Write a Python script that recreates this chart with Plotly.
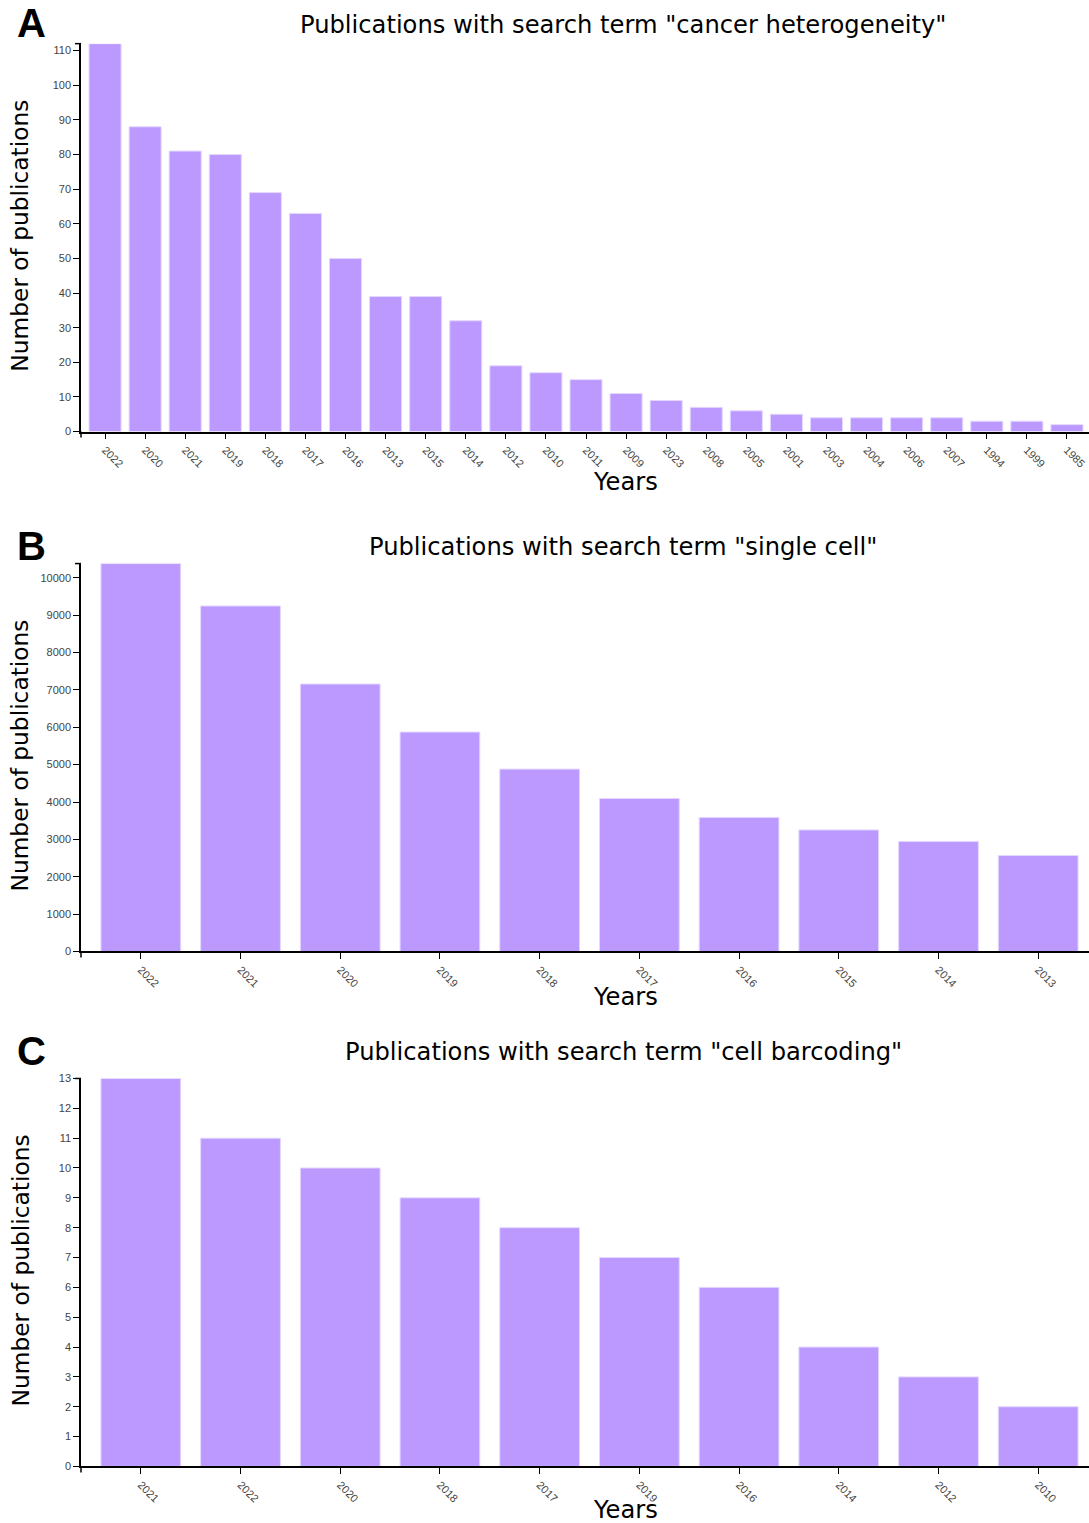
import plotly.graph_objects as go

W, H = 1089, 1523

# Panel A
years_a = ["2022", "2020", "2021", "2019", "2018", "2017", "2016", "2013", "2015", "2014",
           "2012", "2010", "2011", "2009", "2023", "2008", "2005", "2001", "2003", "2004",
           "2006", "2007", "1994", "1999", "1985"]
counts_a = [112, 88, 81, 80, 69, 63, 50, 39, 39, 32, 19, 17, 15, 11, 9, 7, 6, 5, 4, 4, 4, 4, 3, 3, 2]
ticks_a = [0, 10, 20, 30, 40, 50, 60, 70, 80, 90, 100, 110]

# Panel B
years_b = ["2022", "2021", "2020", "2019", "2018", "2017", "2016", "2015", "2014", "2013"]
counts_b = [10380, 9245, 7157, 5872, 4881, 4096, 3588, 3253, 2945, 2570]
ticks_b = [0, 1000, 2000, 3000, 4000, 5000, 6000, 7000, 8000, 9000, 10000]

# Panel C
years_c = ["2021", "2022", "2020", "2018", "2017", "2019", "2016", "2014", "2012", "2010"]
counts_c = [13, 11, 10, 9, 8, 7, 6, 4, 3, 2]
ticks_c = list(range(0, 14))

titles = ['Publications with search term "cancer heterogeneity"',
          'Publications with search term "single cell"',
          'Publications with search term "cell barcoding"']
letters = ["A", "B", "C"]

BAR = "#bb99ff"
EDGE = "#e4d8ff"
TICKFONT = dict(family="Liberation Sans, Arial, sans-serif", size=11, color="#444444")
TITLEFONT = dict(family="DejaVu Sans, Verdana, sans-serif", size=24.2, color="#000000")
YTFONT = dict(family="DejaVu Sans, Verdana, sans-serif", size=23.3, color="#000000")

# small correction for the vertical mapping observed in the rendered page
VS, VO = 0.9923, 5.33


def py(p):
    return 1 - ((p - VO) / VS) / H


def px(p):
    return p / W


# pixel positions: (plot top, plot bottom, title y, years y, letter y, full axis right end)
panels = [
    (43, 431, 24, 481, 22, 1091),
    (563, 951, 546, 997, 545, 1098),
    (1078, 1466, 1052, 1510, 1051, 1098),
]
data = [(years_a, counts_a, ticks_a), (years_b, counts_b, ticks_b), (years_c, counts_c, ticks_c)]

fig = go.Figure()
annotations = []
shapes = []
x0 = 81
for i, ((top, bot, ty, yy, ly, xend), (yrs, cnts, tks)) in enumerate(zip(panels, data)):
    n = len(yrs)
    suffix = "" if i == 0 else str(i + 1)
    fig.add_trace(go.Bar(
        x=yrs, y=cnts, marker=dict(color=BAR, line=dict(color=EDGE, width=1)),
        xaxis="x" + suffix, yaxis="y" + suffix, showlegend=False,
    ))
    right = -0.6 + (n + 0.2) * (W - x0) / (xend - x0)
    xa = dict(
        domain=[px(x0), 1], type="category", range=[-0.6, right],
        showline=True, linecolor="#000000", linewidth=1.5,
        ticks="outside", ticklen=6, tickcolor="#000000", tickwidth=1.2,
        tickangle=45, tickfont=TICKFONT,
        showgrid=False, zeroline=False, anchor="y" + suffix, fixedrange=True,
    )
    ya = dict(
        domain=[py(bot), py(top)], range=[0, max(cnts)],
        showline=True, linecolor="#000000", linewidth=1.5,
        ticks="outside", ticklen=6, tickcolor="#000000", tickwidth=1.2,
        tickmode="array", tickvals=tks, ticktext=[str(t) for t in tks], tickfont=TICKFONT,
        showgrid=False, zeroline=False, anchor="x" + suffix,
    )
    fig.update_layout(**{"xaxis" + suffix: xa, "yaxis" + suffix: ya})

    # d3-style outer ticks at axis ends
    shapes.append(dict(type="line", xref="paper", yref="paper",
                       x0=px(x0), x1=px(x0), y0=py(bot), y1=py(bot + 6),
                       line=dict(color="#000", width=1.5)))
    shapes.append(dict(type="line", xref="paper", yref="paper",
                       x0=px(x0 - 6), x1=px(x0), y0=py(top), y1=py(top),
                       line=dict(color="#000", width=1.5)))

    annotations.append(dict(text=titles[i], x=px(623), y=py(ty), xref="paper", yref="paper",
                            showarrow=False, xanchor="center", yanchor="middle", font=TITLEFONT))
    annotations.append(dict(text="Years", x=px(625), y=py(yy), xref="paper", yref="paper",
                            showarrow=False, xanchor="center", yanchor="middle", font=TITLEFONT))
    annotations.append(dict(text="Number of publications", x=px(20), y=py((top + bot) / 2 - 2),
                            xref="paper", yref="paper", textangle=-90,
                            showarrow=False, xanchor="center", yanchor="middle", font=YTFONT))
    annotations.append(dict(text="<b>" + letters[i] + "</b>", x=px(31), y=py(ly), xref="paper", yref="paper",
                            showarrow=False, xanchor="center", yanchor="middle",
                            font=dict(family="Liberation Sans, Arial, sans-serif", size=40, color="#000")))

fig.update_layout(
    width=W, height=H, margin=dict(l=0, r=0, t=0, b=0),
    paper_bgcolor="white", plot_bgcolor="white",
    bargap=0.2, annotations=annotations, shapes=shapes,
)

fig.write_html("out.html", config={"displayModeBar": False},
               post_script="document.body.style.margin='0';document.body.style.overflow='hidden';")
